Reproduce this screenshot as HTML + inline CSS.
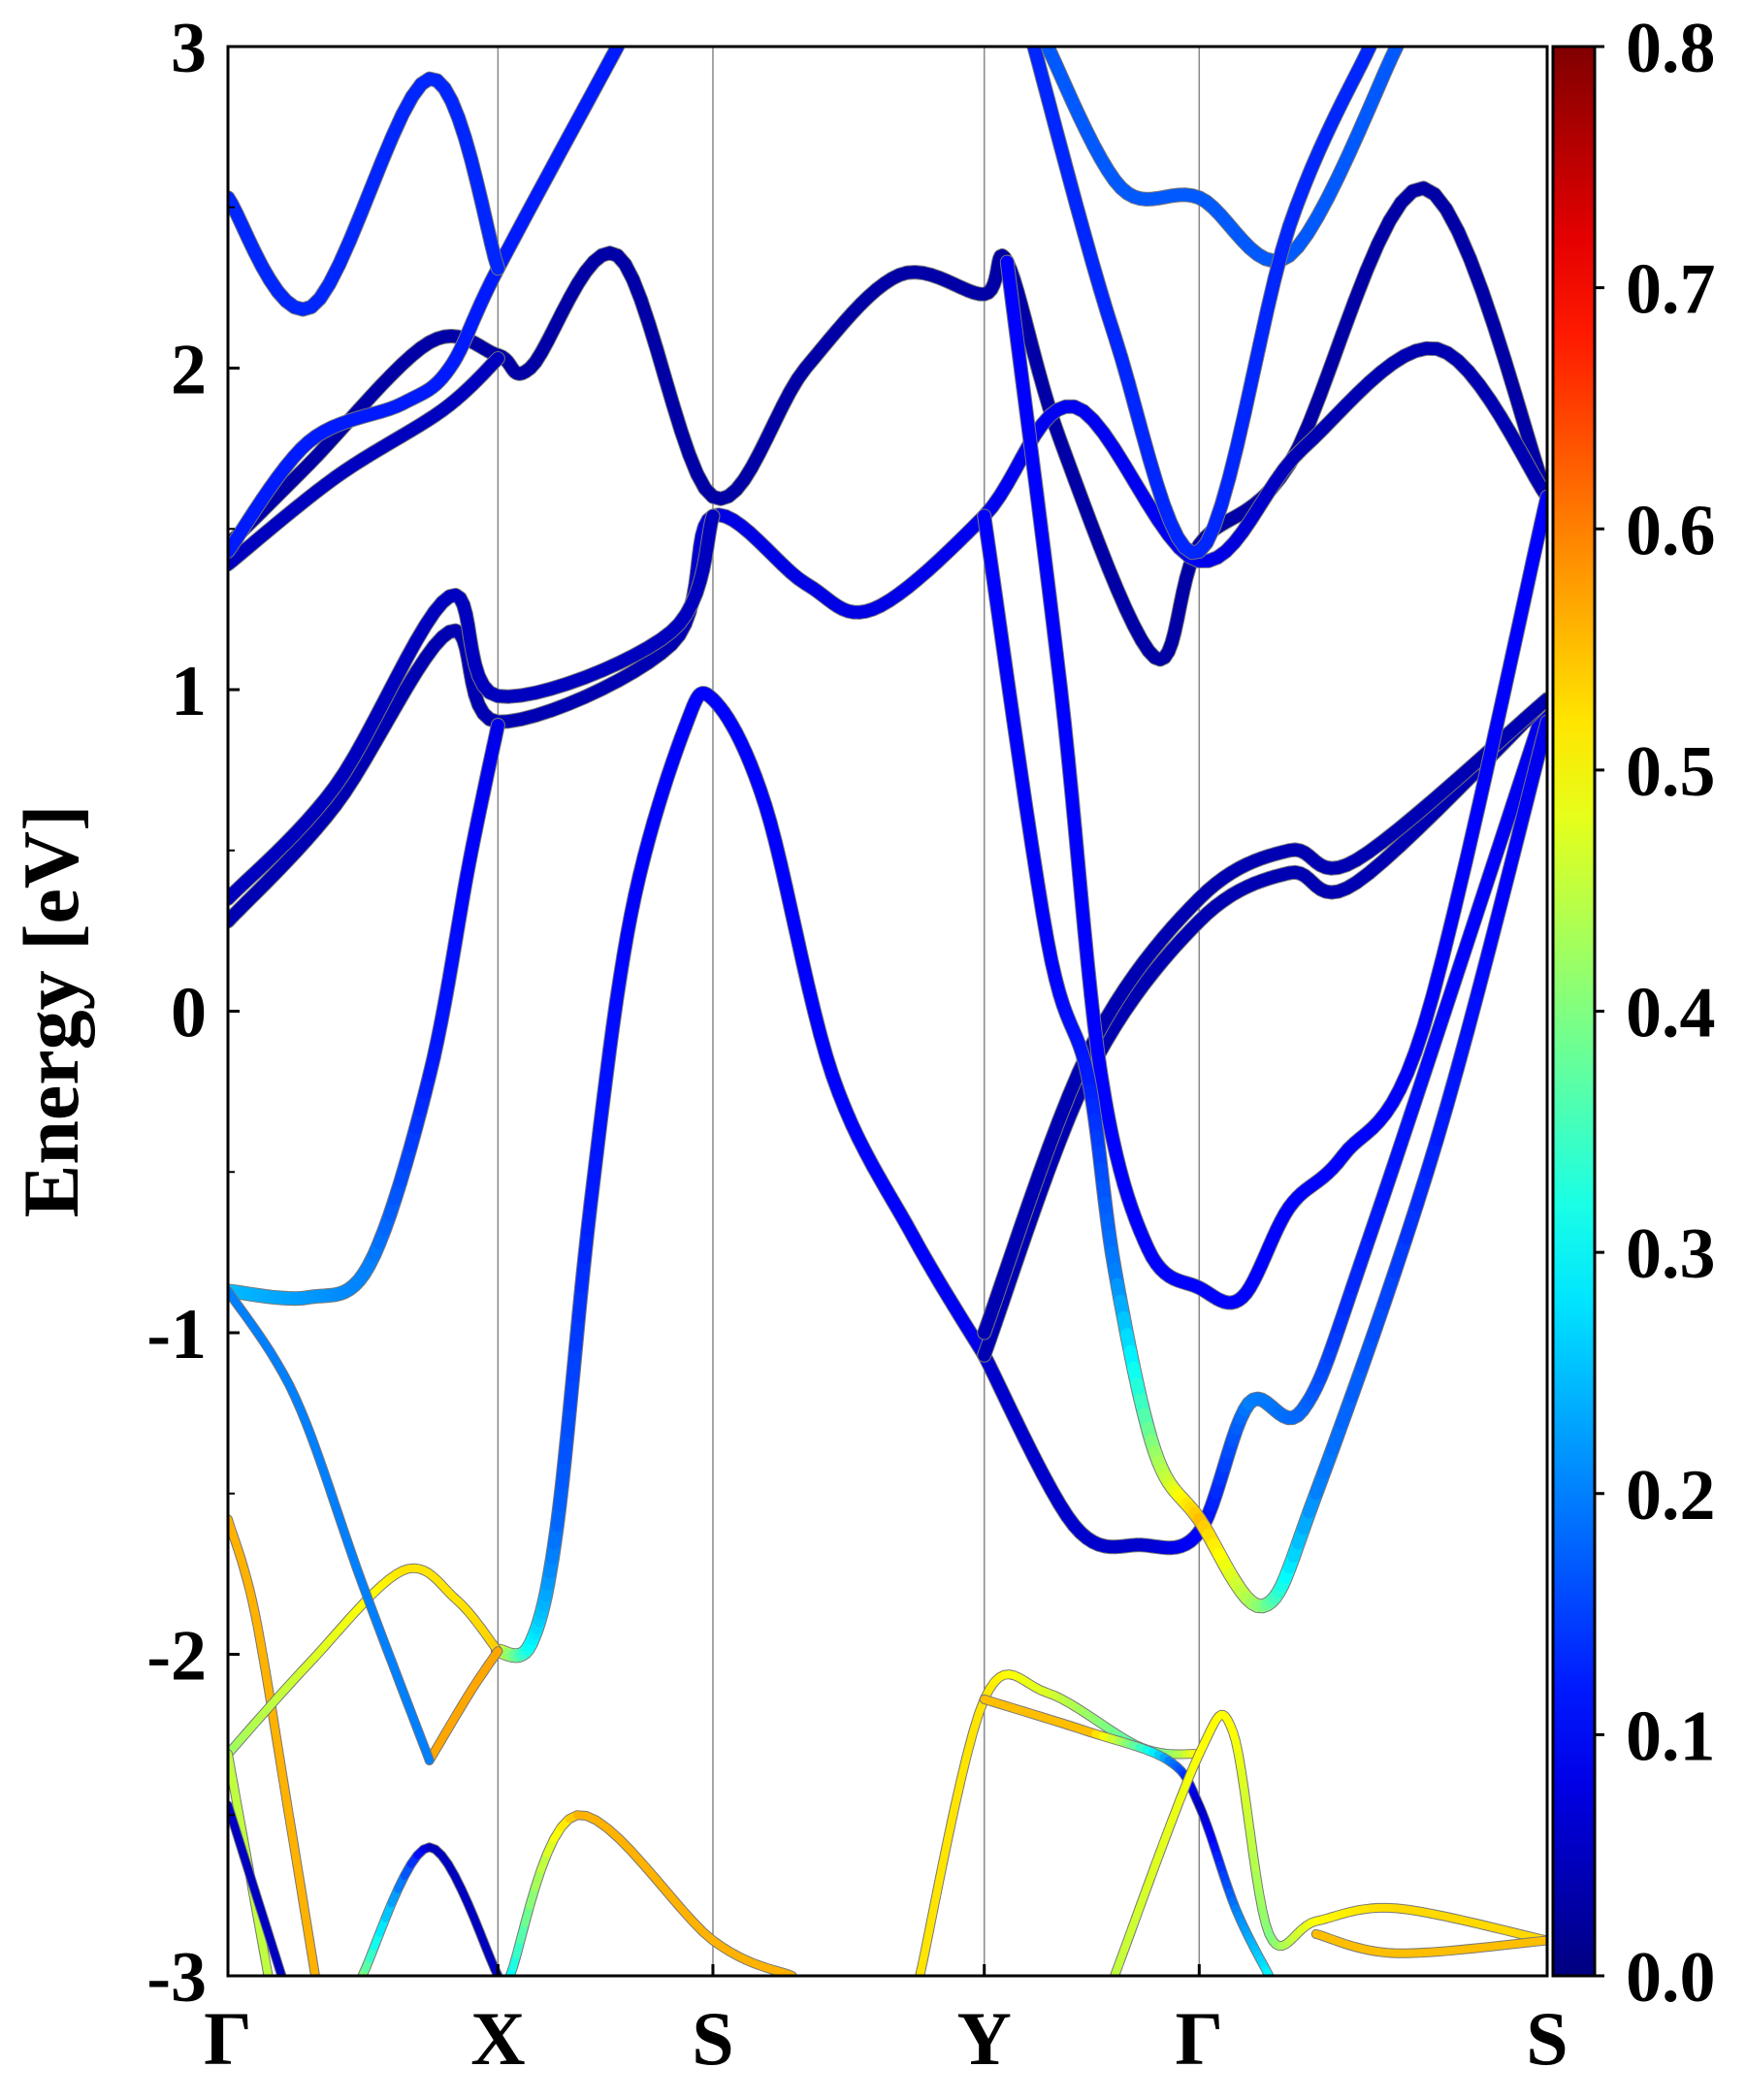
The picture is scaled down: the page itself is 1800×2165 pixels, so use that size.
<!DOCTYPE html>
<html><head><meta charset="utf-8">
<style>
html,body{margin:0;padding:0;background:#fff;}
svg text{font-family:"Liberation Serif",serif;font-weight:bold;fill:#000;}
</style></head>
<body>
<svg id="chart" width="1800" height="2160" viewBox="0 0 1800 2160" xmlns="http://www.w3.org/2000/svg">
<defs>
<linearGradient id="jet" x1="0" y1="1" x2="0" y2="0"></linearGradient>
</defs>
<g id="plot"></g>
</svg>
<script>
// ---- data ----
const kTickPos = [0, 201, 361, 563, 723, 982];
const kTickLabels = ["Γ", "X", "S", "Y", "Γ", "S"];
const eTicks = [-3, -2, -1, 0, 1, 2, 3];
const cbTicks = [0.0, 0.1, 0.2, 0.3, 0.4, 0.5, 0.6, 0.7, 0.8];
const bandK = [
 [0,60,150,201,225,290,361,430,500,563,580,620,690,723,790,890,982],
 [0,80,160,201],
 [0,60,130,165,201,290],
 [0,62,150,201],
 [0,80,165,201,330,361,430,480,563,630,723,800,900,982],
 [0,80,165,201,330,361],
 [0,60,105,150,180,201],
 [201,225,245,270,300,340,361,400,450,510,563],
 [563,630,680,723,760,800,850,982],
 [563,640,723,790,840,982],
 [563,640,723,790,840,982],
 [580,620,650,685,723,755,790,830,890,982],
 [563,610,640,660,690,723,770,810,900,982],
 [610,665,723,790,870],
 [600,660,723,790,850],
 [0,20,45,65],
 [0,60,130,170,201],
 [150,180,201],
 [0,50,100,150],
 [0,30],
 [0,40],
 [100,150,201],
 [210,260,361,420],
 [515,563,610,680,723],
 [563,640,700,723,750,775],
 [660,723,748,775,810,870,982],
 [810,870,982]
];
const bandE = [
 [1.45,1.70,2.08,2.04,2.0,2.35,1.60,2.0,2.29,2.23,2.33,1.77,1.10,1.45,1.70,2.56,1.60],
 [1.39,1.66,1.87,2.03],
 [1.43,1.77,1.89,2.0,2.31,3.0],
 [2.53,2.19,2.90,2.31],
 [0.28,0.64,1.18,0.90,1.14,1.54,1.33,1.25,1.54,1.88,1.40,1.75,2.06,1.60],
 [0.35,0.70,1.29,0.98,1.18,1.54],
 [-0.87,-0.89,-0.79,-0.2,0.47,0.89],
 [-1.99,-1.97,-1.6,-0.6,0.3,0.88,0.97,0.64,-0.20,-0.70,-1.07],
 [-1.07,-1.60,-1.66,-1.62,-1.22,-1.24,-0.70,0.97],
 [-1.07,-0.20,0.28,0.43,0.40,0.97],
 [-1.00,-0.13,0.35,0.50,0.47,0.97],
 [2.33,1.0,-0.20,-0.74,-0.86,-0.89,-0.61,-0.45,-0.05,1.60],
 [1.54,0.22,-0.2,-0.8,-1.37,-1.58,-1.85,-1.5,-0.4,0.9],
 [3.0,2.56,2.53,2.35,3.0],
 [3.0,2.1,1.43,2.44,3.0],
 [-1.58,-1.87,-2.49,-3.0],
 [-2.31,-2.03,-1.74,-1.83,-1.99],
 [-2.33,-2.12,-1.99],
 [-0.87,-1.2,-1.78,-2.33],
 [-2.31,-3.0],
 [-2.47,-3.0],
 [-3.0,-2.60,-3.0],
 [-3.0,-2.50,-2.89,-3.0],
 [-3.0,-2.14,-2.12,-2.29,-2.31],
 [-2.14,-2.24,-2.33,-2.47,-2.79,-3.0],
 [-3.0,-2.31,-2.24,-2.87,-2.83,-2.79,-2.89],
 [-2.87,-2.93,-2.89]
];
const bandW = [
 [.03],[.05],[.12],[.13],
 [.04,.04,.04,.04,.04,.08,.08,.08,.09,.09,.09,.04,.04,.04],
 [.05],
 [.25,.22,.2,.12,.1,.08],
 [.5,.3,.18,.12,.1,.1,.1,.1,.1,.1,.08],
 [.06,.06,.06,.1,.2,.18,.12,.08],
 [.04],[.04],[.1],
 [.1,.1,.12,.2,.42,.55,.4,.2,.12,.08],
 [.17],[.13],
 [.56],[.42,.47,.52,.52,.54],[.57],[.2],[.45],[.05],[.4,.05,.05],[.3,.56,.56,.56],
 [.52,.52,.47,.35,.52],[.55,.55,.2,.05,.2,.3],[.45,.5,.5,.4,.5,.53,.53],[.55]
];
// ---- layout ----
const L=235,R=1595,T=48,B=2037,KMAX=982,EMIN=-3,EMAX=3,WMAX=0.8;
const xS=k=>L+(k/KMAX)*(R-L);
const yS=e=>T+(EMAX-e)/(EMAX-EMIN)*(B-T);
const NS="http://www.w3.org/2000/svg";
const svg=document.getElementById('chart');
const plot=document.getElementById('plot');
function mk(tag,attrs,parent){const el=document.createElementNS(NS,tag);for(const a in attrs)el.setAttribute(a,attrs[a]);(parent||svg).appendChild(el);return el;}
function jet(v){v=Math.max(0,Math.min(1,v));
 const f=x=>Math.max(0,Math.min(1,x));
 const r=f(1.5-Math.abs(4*v-3)),g=f(1.5-Math.abs(4*v-2)),b=f(1.5-Math.abs(4*v-1));
 return `rgb(${Math.round(r*255)},${Math.round(g*255)},${Math.round(b*255)})`;}
const grad=document.getElementById('jet');
for(let i=0;i<=20;i++){mk('stop',{offset:(i/20),'stop-color':jet(i/20)},grad);}
const cp=mk('clipPath',{id:'clip'},svg.querySelector('defs'));
mk('rect',{x:L,y:T,width:R-L,height:B-T},cp);
kTickPos.forEach((k,i)=>{if(i>0&&i<kTickPos.length-1){const ln=mk('line',{x1:xS(k),x2:xS(k),y1:T,y2:B,stroke:'#888','stroke-width':1.5},plot);
 
 }});
const bandsG=mk('g',{'clip-path':'url(#clip)'},plot);


function cr(p0,p1,p2,p3,t){const t2=t*t,t3=t2*t;return 0.5*((2*p1)+(-p0+p2)*t+(2*p0-5*p1+4*p2-p3)*t2+(-p0+3*p1-3*p2+p3)*t3);}
bandK.forEach((ks,bi)=>{
 const es=bandE[bi];let ws=bandW[bi];if(ws.length===1)ws=ks.map(()=>bandW[bi][0]);
 const xs=ks.map(xS),ys=es.map(yS);
 const n=xs.length,pts=[];
 for(let i=0;i<n-1;i++){const i0=Math.max(0,i-1),i3=Math.min(n-1,i+2);
  for(let s=0;s<12;s++){const t=s/12;
   pts.push([cr(xs[i0],xs[i],xs[i+1],xs[i3],t),cr(ys[i0],ys[i],ys[i+1],ys[i3],t),ws[i]+(ws[i+1]-ws[i])*t]);}}
 pts.push([xs[n-1],ys[n-1],ws[n-1]]);
 const thick=(bi>=15)?8:13;
 const g=mk('g',{},bandsG);
 
 
 let d='M'+pts.map(p=>p[0].toFixed(1)+','+p[1].toFixed(1)).join('L');
 mk('path',{d:d,fill:'none',stroke:'#777','stroke-width':thick+2,'stroke-linecap':'round','stroke-linejoin':'round'},g);
 for(let i=0;i<pts.length-1;i++){
  mk('line',{x1:pts[i][0],y1:pts[i][1],x2:pts[i+1][0],y2:pts[i+1][1],stroke:jet(pts[i][2]/WMAX),'stroke-width':thick,'stroke-linecap':'round'},g);}
});
const fr=mk('rect',{x:L,y:T,width:R-L,height:B-T,fill:'none',stroke:'#000','stroke-width':3});


eTicks.forEach(e=>{mk('line',{x1:L,x2:L+12,y1:yS(e),y2:yS(e),stroke:'#000','stroke-width':3});
 const t=mk('text',{x:L-22,y:yS(e)+26,'text-anchor':'end','font-size':74});t.textContent=String(e);
 
 });
for(let e=-2.5;e<3;e+=1){mk('line',{x1:L,x2:L+7,y1:yS(e),y2:yS(e),stroke:'#000','stroke-width':2});}
kTickPos.forEach((k,i)=>{mk('line',{x1:xS(k),x2:xS(k),y1:B,y2:B-12,stroke:'#000','stroke-width':3});
 const t=mk('text',{x:xS(k),y:2128,'text-anchor':'middle','font-size':78});t.textContent=kTickLabels[i];
 
 });
const yl=mk('text',{x:0,y:0,'text-anchor':'middle','font-size':82,transform:`translate(80,${(T+B)/2}) rotate(-90)`});
yl.textContent='Energy [eV]';


const CL=1601,CR=1644;
const cb=mk('rect',{x:CL,y:T,width:CR-CL,height:B-T,fill:'url(#jet)',stroke:'#000','stroke-width':3});


cbTicks.forEach(v=>{const y=B-(v/WMAX)*(B-T);
 mk('line',{x1:CR,x2:CR+10,y1:y,y2:y,stroke:'#000','stroke-width':3});
 const t=mk('text',{x:1676,y:y+26,'font-size':74});t.textContent=v.toFixed(1);
 
 });
</script>
</body></html>
